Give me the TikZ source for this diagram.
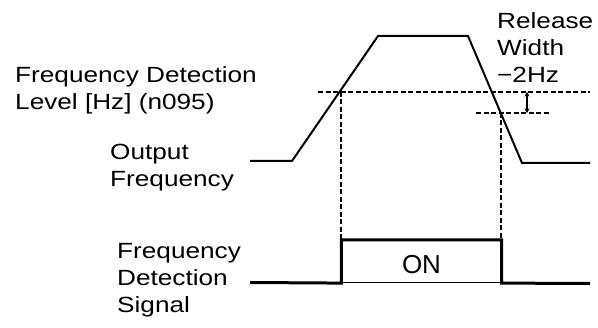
\documentclass[tikz,border=0pt]{standalone}
\usepackage{fontspec}
\setmainfont{Liberation Sans}
\newfontfamily\widefont[FakeStretch=1.19]{Liberation Sans}
\usetikzlibrary{arrows.meta, positioning, calc}
\tikzset{
    lbl/.style={anchor=base west, align=left, inner sep=0pt, font=\widefont\fontsize{22}{27}\selectfont},
    wave/.style={line width=2pt, line join=miter},
    signal/.style={line width=3pt, line join=miter},
    guide/.style={line width=1.6pt, dash pattern=on 5pt off 2.5pt},
    onbox/.style={rectangle, draw, line width=1.2pt, minimum width=159pt, minimum height=42pt, inner sep=0pt},
    widtharrow/.style={{Stealth[length=4.5pt, width=5pt]}-{Stealth[length=4.5pt, width=5pt]}, line width=1.6pt},
}

\begin{document}
\begin{tikzpicture}[x=1pt, y=-1pt]
    \useasboundingbox (0,0) rectangle (598,328);

    % Labels (anchored on the baseline of their last line)
    \node[lbl] (levellbl) at (15,110) {Frequency Detection\\Level [Hz] (n095)};
    \node[lbl] (outlbl) at (110,187) {Output\\Frequency};
    \node[lbl] (siglbl) at (117,313) {Frequency\\Detection\\Signal};
    \node[lbl] (rellbl) at (497,83) {Release\\Width\\−2Hz};

    % Output frequency
    \coordinate (f0) at (250,161);
    \coordinate (f1) at (292,161);
    \coordinate (f2) at (378,36);
    \coordinate (f3) at (468,36);
    \coordinate (f4) at (522,163);
    \coordinate (f5) at (590,163);
    \draw[wave] (f0) -- (f1) -- (f2) -- (f3) -- (f4) -- (f5);

    % Detection level and release level
    \coordinate (lvlA) at (318,92);
    \coordinate (lvlB) at (590,92);
    \coordinate (relA) at (476,113);
    \coordinate (relB) at (550,113);
    \coordinate (onpt) at (341,92);
    \coordinate (offpt) at (501,113);
    \draw[guide] (lvlA) -- (lvlB);
    \draw[guide] (relA) -- (relB);
    \draw[widtharrow] (527,92) -- (527,113);

    % Detection signal
    \node[onbox] (pulse) at (421.5,261.5) {};
    \node[font=\fontsize{26}{30}\selectfont, inner sep=0pt] (ontxt) at ([yshift=-3pt]pulse.center) {ON};
    \coordinate (s0) at (250,282.5);
    \coordinate (s5) at (590,283.5);
    \draw[signal] (s0) -- (pulse.south west) -- (pulse.north west) -- (pulse.north east) -- (pulse.south east) -- (s5);

    % Dashed drop lines
    \draw[guide] (onpt) -- (onpt |- pulse.north);
    \draw[guide] (offpt) -- (offpt |- pulse.north);
\end{tikzpicture}
\end{document}
